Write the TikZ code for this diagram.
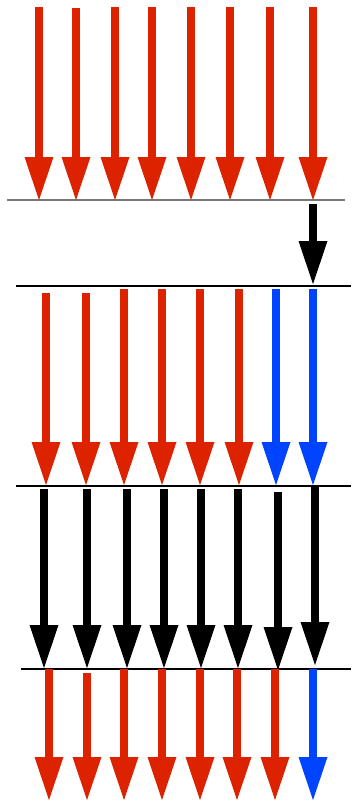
\documentclass[tikz,border=0pt]{standalone}
\usepackage{tikz}
\usetikzlibrary{arrows.meta}

\definecolor{hotred}{HTML}{DD2200}
\definecolor{coolblue}{HTML}{0044FF}
\definecolor{rulegray}{HTML}{777777}

\begin{document}
\begin{tikzpicture}[x=0.05cm, y=-0.05cm,
    flow/.style={line width=0.38cm, -{Triangle[length=2.15cm, width=1.45cm, line width=0pt]}},
    barrier/.style={line width=0.065cm, black},
    surface/.style={line width=0.1cm, rulegray}
]
    \useasboundingbox (0,0) rectangle (351,801);

    % interfaces between the layers
    \coordinate (s1l) at (7,200);   \coordinate (s1r) at (345,200);
    \coordinate (s2l) at (16,286);  \coordinate (s2r) at (351,286);
    \coordinate (s3l) at (16,486);  \coordinate (s3r) at (351,486);
    \coordinate (s4l) at (21,669);  \coordinate (s4r) at (351,669);
    \draw[surface] (s1l) -- (s1r);
    \draw[barrier] (s2l) -- (s2r);
    \draw[barrier] (s3l) -- (s3r);
    \draw[barrier] (s4l) -- (s4r);

    % incoming rays
    \foreach \x/\t [count=\i] in {39/7, 76/8, 115/7, 152/7, 191/7, 230/7, 270/7, 313/7} {
        \coordinate (inA\i) at (\x,\t);
        \coordinate (inB\i) at (\x,200);
        \draw[flow, hotred] (inA\i) -- (inB\i);
    }

    % the one passing through
    \coordinate (passA) at (313,204);
    \coordinate (passB) at (313,284);
    \draw[flow, black] (passA) -- (passB);

    % second layer
    \foreach \x/\t/\c [count=\i] in {46/293/hotred, 86/293/hotred, 124/289/hotred, 162/289/hotred,
                                   200/289/hotred, 239/289/hotred, 276/289/coolblue, 313/289/coolblue} {
        \coordinate (midA\i) at (\x,\t);
        \coordinate (midB\i) at (\x,485);
        \draw[flow, \c] (midA\i) -- (midB\i);
    }

    % third layer
    \foreach \x/\t/\b [count=\i] in {44/489/668, 87/489/668, 127/489/668, 164/489/668,
                                   201/489/668, 238/489/668, 278/492/670, 315/486/665} {
        \coordinate (lowA\i) at (\x,\t);
        \coordinate (lowB\i) at (\x,\b);
        \draw[flow, black] (lowA\i) -- (lowB\i);
    }

    % outgoing rays
    \foreach \x/\t/\c [count=\i] in {49/669/hotred, 87/673/hotred, 124/669/hotred, 162/669/hotred,
                                   200/669/hotred, 237/669/hotred, 275/669/hotred, 313/669/coolblue} {
        \coordinate (outA\i) at (\x,\t);
        \coordinate (outB\i) at (\x,800);
        \draw[flow, \c] (outA\i) -- (outB\i);
    }
\end{tikzpicture}
\end{document}
